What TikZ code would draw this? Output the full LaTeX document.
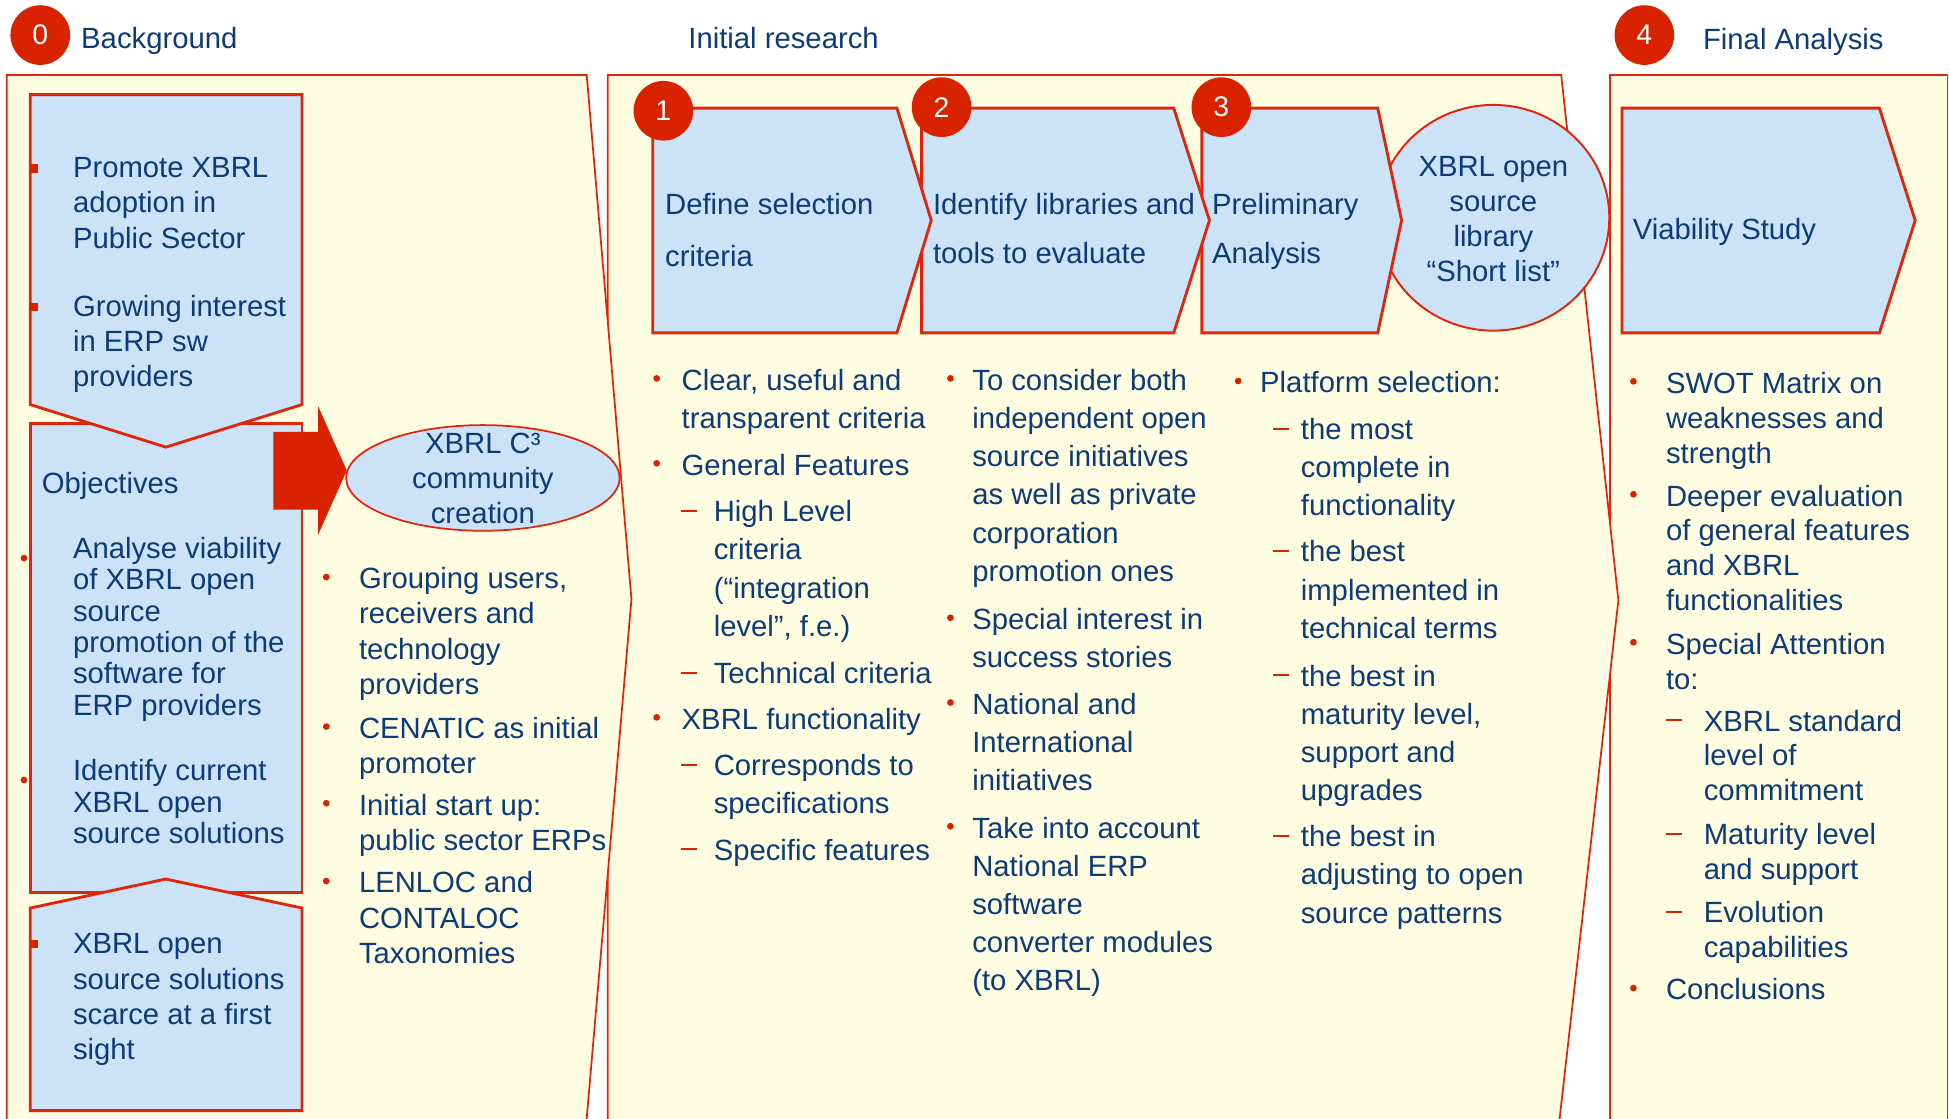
\documentclass[tikz,border=0pt]{standalone}
\usepackage{fontspec}
\setmainfont{Liberation Sans}
\usetikzlibrary{calc,shapes}

\definecolor{navy}{HTML}{0D3B78}
\definecolor{brick}{HTML}{D92200}
\definecolor{edgered}{HTML}{DF260C}
\definecolor{cream}{HTML}{FFFDE1}
\definecolor{sky}{HTML}{CCE2F7}

\newcommand{\ml}[1]{\begin{tabular}[t]{@{}l@{}}#1\end{tabular}}
\newcommand{\mc}[1]{\begin{tabular}[t]{@{}c@{}}#1\end{tabular}}
\def\lsk{16}

% bullet item: name, dot x, text x, baseline, lines
\newcommand{\dotitem}[5]{%
  \fill[brick] (#2,#4-9.5) circle (2.7);
  \node[txt] (#1) at (#3,#4) {\ml{#5}};}
% dash item: name, dash x, text x, baseline, lines
\newcommand{\dashitem}[5]{%
  \draw[brick,line width=0.9pt] (#2,#4-8.5) -- ++(13,0);
  \node[txt] (#1) at (#3,#4) {\ml{#5}};}

\tikzset{
  panel/.style={fill=cream,draw=edgered,line width=0.8pt},
  bluebox/.style={fill=sky,draw=edgered,line width=1.3pt},
  numdot/.style={circle,fill=brick,text=white,minimum size=0.96cm,inner sep=0pt,
    font=\fontsize{13}{15}\selectfont},
  txt/.style={anchor=base west,inner sep=0pt,text=navy,font=\fontsize{13.4}{\lsk}\selectfont},
  ctxt/.style={txt,anchor=base},
}

\begin{document}
\begin{tikzpicture}[x=0.02cm,y=-0.02cm]
\useasboundingbox (0,0) rectangle (1568,900);
\clip (0,0) rectangle (1568,900);

% panels, right to left
\draw[panel] (1295.2,60.3) -- (1566.8,60.3) -- (1566.8,915) -- (1295.2,915) -- cycle;
\draw[panel] (489,60.3) -- (1256,60.3) -- (1302,483) -- (1253,915) -- (489,915) -- cycle;
\draw[panel] (5.4,60.3) -- (472,60.3) -- (508,482) -- (470.7,915) -- (5.4,915) -- cycle;

% headers
\node[txt] (bg) at (65,38.8) {Background};
\node[txt] (ir) at (553.5,38.8) {Initial research};
\node[txt] (fa) at (1369.8,40.2) {Final Analysis};

% panel 0
\begin{scope}
\draw[bluebox] (24.4,340.5) rectangle (243,718.3);
\draw[bluebox] (24.4,76.1) -- (243,76.1) -- (243,325.5) -- (133.4,359.7) -- (24.4,325.5) -- cycle;
\draw[bluebox] (24.4,730.5) -- (133.4,707.2) -- (243,730.5) -- (243,893.5) -- (24.4,893.5) -- cycle;
\fill[brick] (220,347.5) -- (256,347.5) -- (256,327) -- (279,378.5) -- (256,430) -- (256,410) -- (220,410) -- cycle;
\draw[fill=sky,draw=edgered,line width=0.8pt] (388.5,384.5) ellipse [x radius=110,y radius=42.5];

\def\lsk{16.2}
\foreach \y in {135.5,247} {\fill[brick] (24.2,\y-3.3) rectangle ++(6.6,6.6);}
\node[txt] (promote) at (58.4,142.8) {\ml{Promote XBRL\\adoption in\\Public Sector}};
\node[txt] (growing) at (58.4,254.3) {\ml{Growing interest\\in ERP sw\\providers}};
\node[txt] (objectives) at (33.4,397) {Objectives};
\def\lsk{14.4}
\foreach \y in {449,627.5} {\fill[brick] (19.3,\y) circle (2.7);}
\node[txt] (analyse) at (58.4,449) {\ml{Analyse viability\\of XBRL open\\source\\promotion of the\\software for\\ERP providers}};
\node[txt] (current) at (58.4,628) {\ml{Identify current\\XBRL open\\source solutions}};
\def\lsk{16.1}
\fill[brick] (24.2,759.6-3.3) rectangle ++(6.6,6.6);
\node[txt] (scarce) at (58.4,767.4) {\ml{XBRL open\\source solutions\\scarce at a first\\sight}};
\def\lsk{15.9}
\node[ctxt] (community) at (388.5,364.9) {\mc{XBRL C³\\community\\creation}};
\def\lsk{16.1}
\dotitem{grouping}{262.5}{288.5}{473.7}{Grouping users,\\receivers and\\technology\\providers}
\dotitem{cenatic}{262.5}{288.5}{594}{CENATIC as initial\\promoter}
\dotitem{startup}{262.5}{288.5}{655.7}{Initial start up:\\public sector ERPs}
\dotitem{lenloc}{262.5}{288.5}{718.3}{LENLOC and\\CONTALOC\\Taxonomies}
\end{scope}

% panel 1
\begin{scope}
\draw[fill=sky,draw=edgered,line width=0.9pt] (1201.4,175.2) ellipse [x radius=93.3,y radius=90.8];
\draw[bluebox] (966.9,87) -- (1108.4,87) -- (1127.6,177.3) -- (1108.4,267.8) -- (966.9,267.8) -- cycle;
\draw[bluebox] (741.3,87) -- (944.3,87) -- (973,177.3) -- (944.3,267.8) -- (741.3,267.8) -- cycle;
\draw[bluebox] (525.1,87) -- (721.6,87) -- (749.2,177.3) -- (721.6,267.8) -- (525.1,267.8) -- cycle;

\def\lsk{23.7}
\node[txt] (define) at (534.8,172.4) {\ml{Define selection\\criteria}};
\def\lsk{22.5}
\node[txt] (libs) at (750.3,172.4) {\ml{Identify libraries and\\tools to evaluate}};
\node[txt] (prelim) at (974.8,172.4) {\ml{Preliminary\\Analysis}};
\def\lsk{16}
\node[ctxt] (shortlist) at (1201.4,142.1) {\mc{XBRL open\\source\\library\\“Short list”}};

\def\lsk{17.5}
\dotitem{clear}{528.3}{548.1}{313.9}{Clear, useful and\\transparent criteria}
\dotitem{general}{528.3}{548.1}{382.2}{General Features}
\dashitem{highlevel}{548}{573.9}{419.6}{High Level\\criteria\\(“integration\\level”, f.e.)}
\dashitem{technical}{548}{573.9}{549.9}{Technical criteria}
\dotitem{xbrlfunc}{528.3}{548.1}{586.6}{XBRL functionality}
\dashitem{corresp}{548}{573.9}{624}{Corresponds to\\specifications}
\dashitem{specific}{548}{573.9}{691.9}{Specific features}

\dotitem{consider}{764.6}{781.9}{313.9}{To consider both\\independent open\\source initiatives\\as well as private\\corporation\\promotion ones}
\dotitem{success}{764.6}{781.9}{506.5}{Special interest in\\success stories}
\dotitem{national}{764.6}{781.9}{574.7}{National and\\International\\initiatives}
\dotitem{account}{764.6}{781.9}{674.2}{Take into account\\National ERP\\software\\converter modules\\(to XBRL)}

\dotitem{platform}{996.1}{1013.5}{316}{Platform selection:}
\dashitem{most}{1024.3}{1046.2}{353.4}{the most\\complete in\\functionality}
\dashitem{implemented}{1024.3}{1046.2}{452}{the best\\implemented in\\technical terms}
\dashitem{maturity}{1024.3}{1046.2}{551.9}{the best in\\maturity level,\\support and\\upgrades}
\dashitem{adjusting}{1024.3}{1046.2}{681.2}{the best in\\adjusting to open\\source patterns}
\end{scope}

% panel 2
\begin{scope}
\draw[bluebox] (1304.9,87) -- (1512,87) -- (1540.8,177.3) -- (1512,267.8) -- (1304.9,267.8) -- cycle;
\node[txt] (viability) at (1313.3,192.5) {Viability Study};
\def\lsk{16}
\dotitem{swot}{1314.1}{1340}{316.3}{SWOT Matrix on\\weaknesses and\\strength}
\dotitem{deeper}{1314.1}{1340}{407.1}{Deeper evaluation\\of general features\\and XBRL\\functionalities}
\dotitem{attention}{1314.1}{1340}{526.2}{Special Attention\\to:}
\dashitem{standard}{1340}{1370.4}{588.1}{XBRL standard\\level of\\commitment}
\dashitem{support}{1340}{1370.4}{679.3}{Maturity level\\and support}
\dashitem{evolution}{1340}{1370.4}{742}{Evolution\\capabilities}
\dotitem{conclusions}{1314.1}{1340}{804.4}{Conclusions}
\end{scope}

% step numbers
\foreach \n/\x/\y in {0/32.4/28.2,1/533.7/89.1,2/757.5/86.2,3/982.6/86.2,4/1322.9/28.2}
  {\node[numdot] (n\n) at (\x,\y) {\n};}
\end{tikzpicture}
\end{document}
